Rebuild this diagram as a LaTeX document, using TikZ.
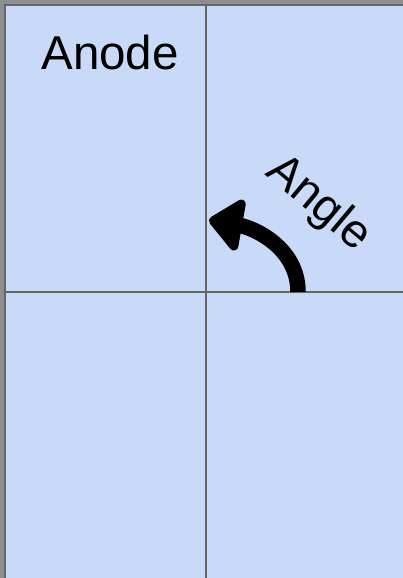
\documentclass[tikz,border=0pt]{standalone}
\usepackage{fontspec}
\setmainfont{Liberation Sans}
\usepackage{xcolor}
\usepackage{tikz}
\usetikzlibrary{arrows.meta, positioning, calc}

\definecolor{cellblue}{HTML}{C9DAF8}
\definecolor{gridgray}{HTML}{666666}
\definecolor{outergray}{HTML}{8E8E8E}

\begin{document}
\begin{tikzpicture}[x=1pt,y=1pt]
  % Canvas (the grid is cut off at the right and bottom)
  \useasboundingbox (0,0) rectangle (403,-578);
  \fill[outergray] (0,0) rectangle (403,-578);

  % Grid corners and crossing point
  \coordinate (TL) at (5,-5);
  \coordinate (BR) at (420,-600);
  \coordinate (X) at (206,-292);

  % Cells
  \fill[cellblue] (TL) rectangle (BR);
  \draw[gridgray,line width=2] (TL) rectangle (BR);
  \draw[gridgray,line width=1.5] (X |- TL) -- (X |- BR);
  \draw[gridgray,line width=1.5] (X -| TL) -- (X -| BR);

  % Rotation arrow (start on the horizontal line, tip near the vertical one)
  \coordinate (S) at (298,-292);
  \coordinate (T) at (209,-220);
  \draw[line width=15.5,
    -{Triangle[round,length=36pt,width=60pt,line width=12pt]}]
    (S) to[out=90,in=-10] (T);

  % Labels
  \node[font=\fontsize{47.5}{50}\selectfont] (anode) at (110,-53) {Anode};
  \node[font=\fontsize{47}{50}\selectfont,rotate=-40] (angle) at (318,-204) {Angle};
\end{tikzpicture}
\end{document}
